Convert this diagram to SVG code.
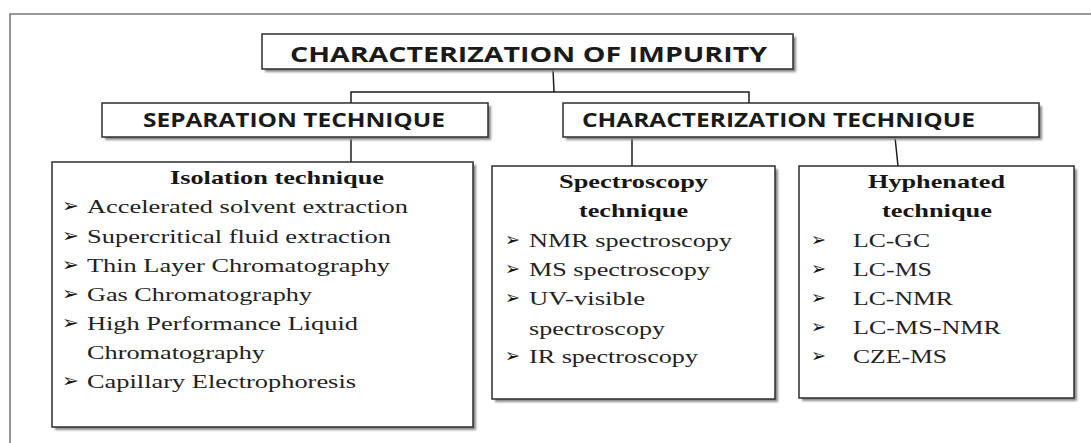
<svg xmlns="http://www.w3.org/2000/svg" width="1091" height="443" viewBox="0 0 1091 443">
<style>
.frame{fill:none;stroke:#7a7a7a;stroke-width:1.6}
.box{fill:#fff;stroke:#2e2e2e;stroke-width:1.5}
.shadow{fill:#8a8a8a;filter:url(#blur)}
.conn{fill:none;stroke:#1e1e1e;stroke-width:1.5}
.hd{font-family:"Open Sans","Liberation Sans",sans-serif;font-weight:700;fill:#1a1a1a}
.tt{font-family:"Liberation Serif","Times New Roman",serif;font-weight:700;font-size:19.5px;fill:#161616}
.li{font-family:"Liberation Serif","Times New Roman",serif;font-size:19.5px;fill:#222}
.bu{font-family:"DejaVu Sans",sans-serif;font-size:19px;fill:#161616}
</style>
<defs>
<filter id="blur" x="-5%" y="-5%" width="110%" height="110%"><feGaussianBlur stdDeviation="0.8"/></filter>
</defs>
<rect width="1091" height="443" fill="#fff"/>
<path class="frame" d="M10,443 V14 H1091"/>

<g id="connectors">
<path class="conn" d="M553,69 L554,92"/>
<path class="conn" d="M351,103 V92 H749 V103"/>
<path class="conn" d="M351,137 V162"/>
<path class="conn" d="M632,137 V166"/>
<path class="conn" d="M895,137 L898,166"/>
</g>

<g id="node-root">
<rect class="shadow" x="265" y="37" width="531" height="35"/>
<rect class="box" x="262" y="34" width="531" height="35"/>
<text class="hd" x="290" y="62" font-size="22" textLength="477" lengthAdjust="spacingAndGlyphs">CHARACTERIZATION OF IMPURITY</text>
</g>

<g id="node-separation">
<rect class="shadow" x="105" y="106" width="386" height="34"/>
<rect class="box" x="102" y="103" width="386" height="34"/>
<text class="hd" x="143" y="127" font-size="19" textLength="302" lengthAdjust="spacingAndGlyphs">SEPARATION TECHNIQUE</text>
</g>

<g id="node-characterization">
<rect class="shadow" x="566" y="106" width="476" height="34"/>
<rect class="box" x="563" y="103" width="476" height="34"/>
<text class="hd" x="582" y="127" font-size="19" textLength="393" lengthAdjust="spacingAndGlyphs">CHARACTERIZATION TECHNIQUE</text>
</g>

<g id="node-isolation">
<rect class="shadow" x="55" y="165" width="421" height="265"/>
<rect class="box" x="52" y="162" width="421" height="265"/>
<text class="tt" x="170" y="184" textLength="214" lengthAdjust="spacingAndGlyphs">Isolation technique</text>
<text class="bu" x="62" y="212" textLength="17" lengthAdjust="spacingAndGlyphs">➢</text>
<text class="li" x="87" y="213" textLength="321" lengthAdjust="spacingAndGlyphs">Accelerated solvent extraction</text>
<text class="bu" x="62" y="242" textLength="17" lengthAdjust="spacingAndGlyphs">➢</text>
<text class="li" x="87" y="243" textLength="304" lengthAdjust="spacingAndGlyphs">Supercritical fluid extraction</text>
<text class="bu" x="62" y="271" textLength="17" lengthAdjust="spacingAndGlyphs">➢</text>
<text class="li" x="87" y="272" textLength="303" lengthAdjust="spacingAndGlyphs">Thin Layer Chromatography</text>
<text class="bu" x="62" y="300" textLength="17" lengthAdjust="spacingAndGlyphs">➢</text>
<text class="li" x="87" y="301" textLength="225" lengthAdjust="spacingAndGlyphs">Gas Chromatography</text>
<text class="bu" x="62" y="329" textLength="17" lengthAdjust="spacingAndGlyphs">➢</text>
<text class="li" x="87" y="330" textLength="271" lengthAdjust="spacingAndGlyphs">High Performance Liquid</text>
<text class="li" x="87" y="359" textLength="178" lengthAdjust="spacingAndGlyphs">Chromatography</text>
<text class="bu" x="62" y="387" textLength="17" lengthAdjust="spacingAndGlyphs">➢</text>
<text class="li" x="87" y="388" textLength="269" lengthAdjust="spacingAndGlyphs">Capillary Electrophoresis</text>
</g>

<g id="node-spectroscopy">
<rect class="shadow" x="495" y="169" width="283" height="233"/>
<rect class="box" x="492" y="166" width="283" height="233"/>
<text class="tt" x="559" y="188" textLength="149" lengthAdjust="spacingAndGlyphs">Spectroscopy</text>
<text class="tt" x="579" y="217" textLength="109" lengthAdjust="spacingAndGlyphs">technique</text>
<text class="bu" x="505" y="246" textLength="15" lengthAdjust="spacingAndGlyphs">➢</text>
<text class="li" x="529" y="247" textLength="203" lengthAdjust="spacingAndGlyphs">NMR spectroscopy</text>
<text class="bu" x="505" y="275" textLength="15" lengthAdjust="spacingAndGlyphs">➢</text>
<text class="li" x="529" y="276" textLength="181" lengthAdjust="spacingAndGlyphs">MS spectroscopy</text>
<text class="bu" x="505" y="304" textLength="15" lengthAdjust="spacingAndGlyphs">➢</text>
<text class="li" x="529" y="305" textLength="116" lengthAdjust="spacingAndGlyphs">UV-visible</text>
<text class="li" x="529" y="335" textLength="136" lengthAdjust="spacingAndGlyphs">spectroscopy</text>
<text class="bu" x="505" y="362" textLength="15" lengthAdjust="spacingAndGlyphs">➢</text>
<text class="li" x="529" y="363" textLength="169" lengthAdjust="spacingAndGlyphs">IR spectroscopy</text>
</g>

<g id="node-hyphenated">
<rect class="shadow" x="802" y="169" width="275" height="232"/>
<rect class="box" x="799" y="166" width="275" height="232"/>
<text class="tt" x="868" y="188" textLength="137" lengthAdjust="spacingAndGlyphs">Hyphenated</text>
<text class="tt" x="882" y="217" textLength="110" lengthAdjust="spacingAndGlyphs">technique</text>
<text class="bu" x="811" y="246" textLength="15" lengthAdjust="spacingAndGlyphs">➢</text>
<text class="li" x="853" y="247" textLength="77" lengthAdjust="spacingAndGlyphs">LC-GC</text>
<text class="bu" x="811" y="275" textLength="15" lengthAdjust="spacingAndGlyphs">➢</text>
<text class="li" x="853" y="276" textLength="79" lengthAdjust="spacingAndGlyphs">LC-MS</text>
<text class="bu" x="811" y="304" textLength="15" lengthAdjust="spacingAndGlyphs">➢</text>
<text class="li" x="853" y="305" textLength="100" lengthAdjust="spacingAndGlyphs">LC-NMR</text>
<text class="bu" x="811" y="333" textLength="15" lengthAdjust="spacingAndGlyphs">➢</text>
<text class="li" x="853" y="334" textLength="148" lengthAdjust="spacingAndGlyphs">LC-MS-NMR</text>
<text class="bu" x="811" y="362" textLength="15" lengthAdjust="spacingAndGlyphs">➢</text>
<text class="li" x="853" y="363" textLength="94" lengthAdjust="spacingAndGlyphs">CZE-MS</text>
</g>
</svg>
